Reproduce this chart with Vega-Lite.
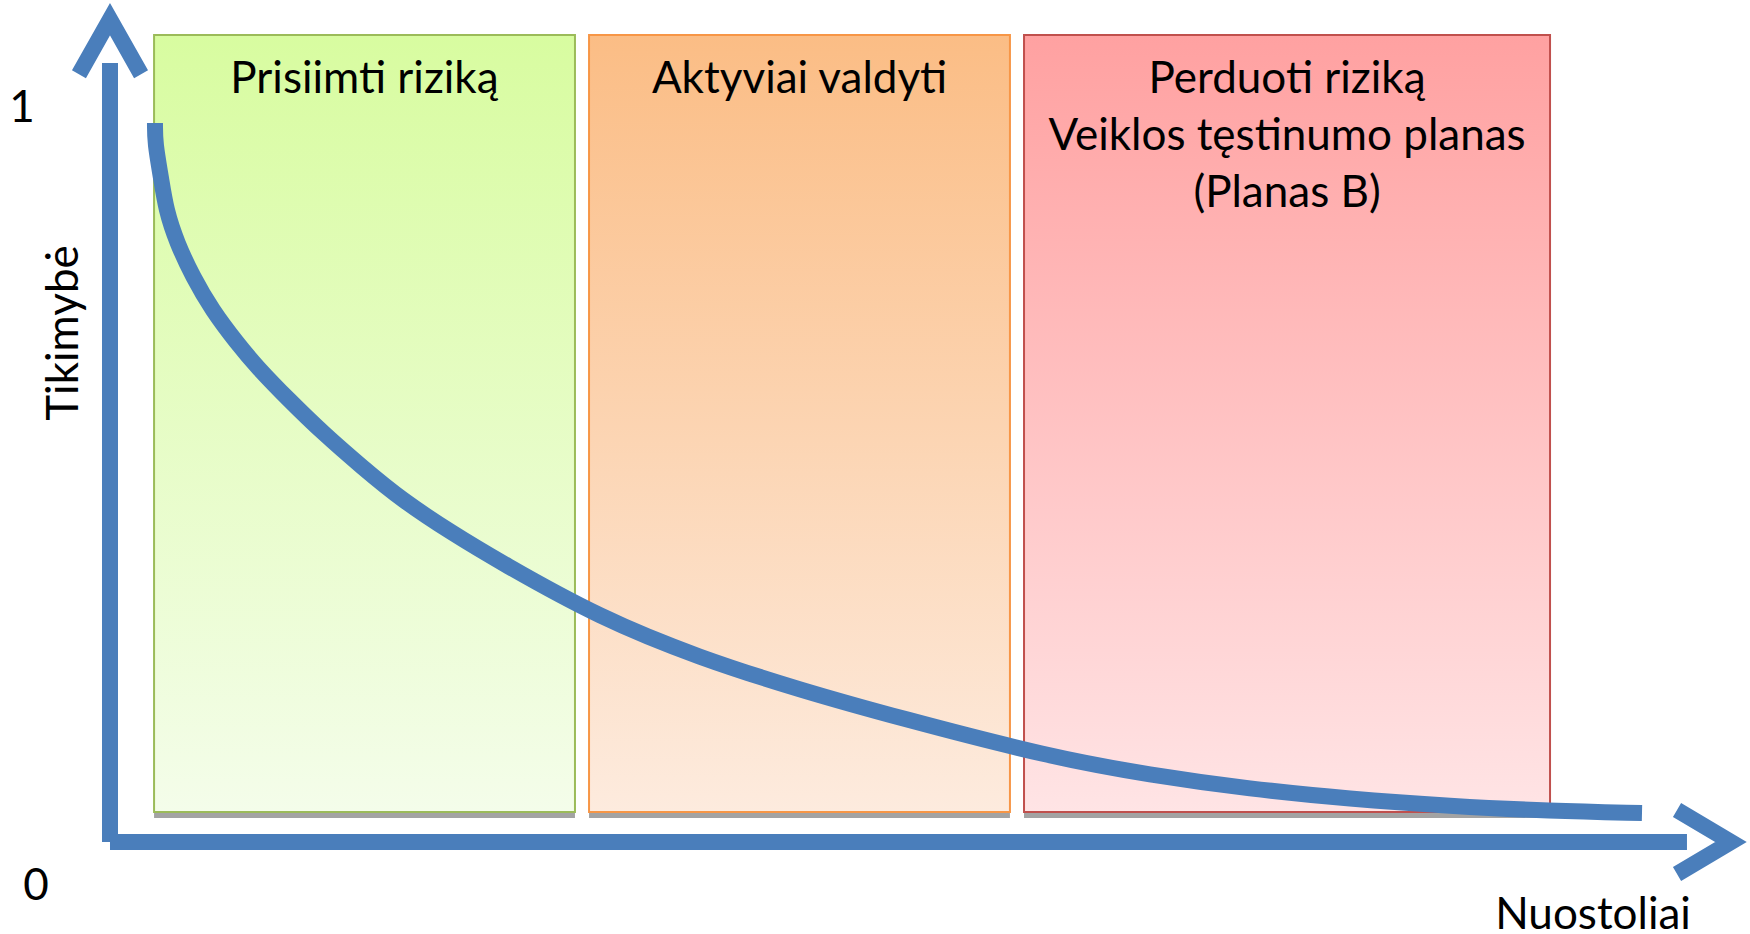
{
  "$schema": "https://vega.github.io/schema/vega-lite/v6.json",
  "width": 1750,
  "height": 934,
  "autosize": {"type": "none"},
  "padding": 0,
  "background": "white",
  "config": {"view": {"stroke": null}},
  "datasets": {
    "boxes": [
      {"zone": "Prisiimti", "x1": 2.88, "x2": 30.39, "y1": 0.0409, "y2": 1.0995},
      {"zone": "Aktyviai", "x1": 31.31, "x2": 58.82, "y1": 0.0409, "y2": 1.0995},
      {"zone": "Perduoti", "x1": 59.74, "x2": 94.12, "y1": 0.0409, "y2": 1.0995}
    ],
    "curve": [
      {"i": 0, "x": 2.94, "y": 0.9796},
      {"i": 1, "x": 2.94, "y": 0.9523},
      {"i": 2, "x": 3.33, "y": 0.906},
      {"i": 3, "x": 3.66, "y": 0.861},
      {"i": 4, "x": 4.38, "y": 0.8161},
      {"i": 5, "x": 5.42, "y": 0.7698},
      {"i": 6, "x": 6.67, "y": 0.7248},
      {"i": 7, "x": 8.3, "y": 0.6798},
      {"i": 8, "x": 9.61, "y": 0.6471},
      {"i": 9, "x": 11.7, "y": 0.6022},
      {"i": 10, "x": 13.92, "y": 0.5572},
      {"i": 11, "x": 16.47, "y": 0.5109},
      {"i": 12, "x": 19.08, "y": 0.4659},
      {"i": 13, "x": 22.35, "y": 0.421},
      {"i": 14, "x": 25.49, "y": 0.3815},
      {"i": 15, "x": 32.03, "y": 0.3052},
      {"i": 16, "x": 38.56, "y": 0.2507},
      {"i": 17, "x": 45.1, "y": 0.2071},
      {"i": 18, "x": 51.63, "y": 0.1689},
      {"i": 19, "x": 61.44, "y": 0.1158},
      {"i": 20, "x": 67.97, "y": 0.0913},
      {"i": 21, "x": 74.51, "y": 0.0722},
      {"i": 22, "x": 81.05, "y": 0.0586},
      {"i": 23, "x": 87.58, "y": 0.049},
      {"i": 24, "x": 94.12, "y": 0.0422},
      {"i": 25, "x": 100.13, "y": 0.0395}
    ],
    "axes": [
      {"part": "yaxis", "i": 0, "x": 0, "y": 0},
      {"part": "yaxis", "i": 1, "x": 0, "y": 1.0613},
      {"part": "xaxis", "i": 0, "x": 0, "y": 0},
      {"part": "xaxis", "i": 1, "x": 103.07, "y": 0},
      {"part": "yhead", "i": 0, "x": -2.03, "y": 1.046},
      {"part": "yhead", "i": 1, "x": 0, "y": 1.121},
      {"part": "yhead", "i": 2, "x": 2.03, "y": 1.046},
      {"part": "xhead", "i": 0, "x": 102.42, "y": 0.0436},
      {"part": "xhead", "i": 1, "x": 105.95, "y": 0},
      {"part": "xhead", "i": 2, "x": 102.42, "y": -0.0436}
    ],
    "labels": [
      {"text": "Prisiimti riziką", "x": 16.63, "y": 1.0204},
      {"text": "Aktyviai valdyti", "x": 45.07, "y": 1.0204},
      {"text": "Perduoti riziką", "x": 76.93, "y": 1.0204},
      {"text": "Veiklos tęstinumo planas", "x": 76.93, "y": 0.9428},
      {"text": "(Planas B)", "x": 76.93, "y": 0.8651},
      {"text": "1", "x": -5.75, "y": 0.9809},
      {"text": "0", "x": -4.84, "y": -0.079},
      {"text": "Nuostoliai", "x": 96.93, "y": -0.1185}
    ],
    "ylabel": [
      {"text": "Tikimybė", "x": -2.09, "y": 0.6935}
    ]
  },
  "layer": [
    {
      "data": {"name": "boxes"},
      "mark": {"type": "rect", "fill": "#a3a3a3", "yOffset": 6, "y2Offset": 6},
      "encoding": {
        "x": {"field": "x1", "type": "quantitative", "scale": {"domain": [-7.1895, 107.1895], "nice": false, "zero": false}, "axis": null},
        "x2": {"field": "x2"},
        "y": {"field": "y1", "type": "quantitative", "scale": {"domain": [-0.12534, 1.14714], "nice": false, "zero": false}, "axis": null},
        "y2": {"field": "y2"}
      }
    },
    {
      "data": {"name": "boxes"},
      "transform": [{"filter": "datum.zone === 'Prisiimti'"}],
      "mark": {"type": "rect", "stroke": "#9bbb59", "strokeWidth": 2,
        "fill": {"gradient": "linear", "x1": 0, "y1": 0, "x2": 0, "y2": 1,
          "stops": [{"offset": 0, "color": "#d8fca0"}, {"offset": 1, "color": "#f4fdea"}]}},
      "encoding": {
        "x": {"field": "x1", "type": "quantitative"},
        "x2": {"field": "x2"},
        "y": {"field": "y1", "type": "quantitative"},
        "y2": {"field": "y2"}
      }
    },
    {
      "data": {"name": "boxes"},
      "transform": [{"filter": "datum.zone === 'Aktyviai'"}],
      "mark": {"type": "rect", "stroke": "#f79646", "strokeWidth": 2,
        "fill": {"gradient": "linear", "x1": 0, "y1": 0, "x2": 0, "y2": 1,
          "stops": [{"offset": 0, "color": "#fbbd85"}, {"offset": 1, "color": "#fdebde"}]}},
      "encoding": {
        "x": {"field": "x1", "type": "quantitative"},
        "x2": {"field": "x2"},
        "y": {"field": "y1", "type": "quantitative"},
        "y2": {"field": "y2"}
      }
    },
    {
      "data": {"name": "boxes"},
      "transform": [{"filter": "datum.zone === 'Perduoti'"}],
      "mark": {"type": "rect", "stroke": "#c0504d", "strokeWidth": 2,
        "fill": {"gradient": "linear", "x1": 0, "y1": 0, "x2": 0, "y2": 1,
          "stops": [{"offset": 0, "color": "#ffa1a1"}, {"offset": 1, "color": "#ffe4e5"}]}},
      "encoding": {
        "x": {"field": "x1", "type": "quantitative"},
        "x2": {"field": "x2"},
        "y": {"field": "y1", "type": "quantitative"},
        "y2": {"field": "y2"}
      }
    },
    {
      "data": {"name": "labels"},
      "mark": {"type": "text", "font": "Lato", "fontSize": 44, "color": "#000000", "align": "center", "baseline": "alphabetic"},
      "encoding": {
        "x": {"field": "x", "type": "quantitative"},
        "y": {"field": "y", "type": "quantitative"},
        "text": {"field": "text"}
      }
    },
    {
      "data": {"name": "ylabel"},
      "mark": {"type": "text", "font": "Lato", "fontSize": 44, "color": "#000000", "align": "center", "baseline": "alphabetic", "angle": 270},
      "encoding": {
        "x": {"field": "x", "type": "quantitative"},
        "y": {"field": "y", "type": "quantitative"},
        "text": {"field": "text"}
      }
    },
    {
      "data": {"name": "curve"},
      "mark": {"type": "line", "color": "#4a7ebb", "strokeWidth": 16, "strokeCap": "butt", "interpolate": "basis"},
      "encoding": {
        "x": {"field": "x", "type": "quantitative"},
        "y": {"field": "y", "type": "quantitative"},
        "order": {"field": "i", "type": "quantitative"}
      }
    },
    {
      "data": {"name": "axes"},
      "mark": {"type": "line", "color": "#4a7ebb", "strokeWidth": 16, "strokeCap": "butt", "strokeJoin": "miter"},
      "encoding": {
        "x": {"field": "x", "type": "quantitative"},
        "y": {"field": "y", "type": "quantitative"},
        "detail": {"field": "part"},
        "order": {"field": "i", "type": "quantitative"}
      }
    }
  ]
}
